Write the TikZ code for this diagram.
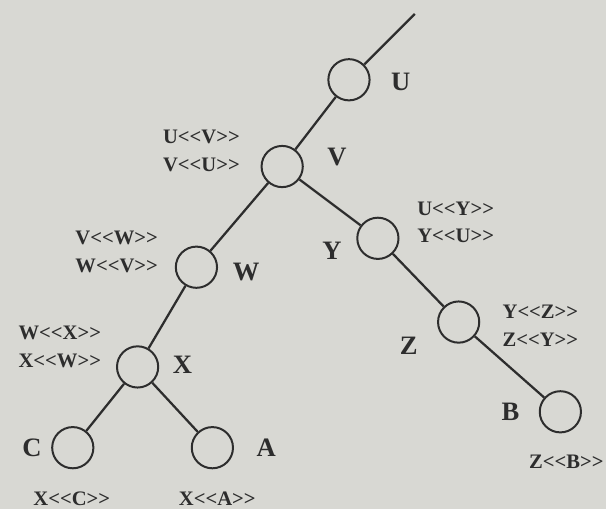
\documentclass[tikz,border=0pt]{standalone}
\usepackage{fontspec}
\setmainfont{Liberation Serif}
\definecolor{scanGray}{RGB}{216,216,211}
\definecolor{inkGray}{RGB}{45,45,45}
\newcommand{\opn}{<{}<}
\newcommand{\cls}{>{}>}

\begin{document}
\begin{tikzpicture}[
    x=0.75pt, y=-0.75pt,
    vertex/.style={circle, draw=inkGray, line width=1.5pt, minimum size=31pt, inner sep=0pt},
    letter/.style={font=\fontsize{20}{20}\selectfont\bfseries, text=inkGray},
    order/.style={font=\fontsize{15.5}{21}\selectfont\bfseries, text=inkGray, align=center},
    edge/.style={line width=1.7pt, inkGray}
]
\fill[scanGray] (0,0) rectangle (608,510);
% tree
\coordinate (top) at (416,14);
\node[vertex] (u) at (350,80) {};
\node[vertex] (v) at (283,167) {};
\node[vertex] (w) at (197,268) {};
\node[vertex] (x) at (138,368) {};
\node[vertex] (c) at (73,449) {};
\node[vertex] (a) at (213,449) {};
\node[vertex] (y) at (379,239) {};
\node[vertex] (z) at (460,323) {};
\node[vertex] (b) at (562,413) {};
\draw[edge] (top) -- (u);
\draw[edge] (u) -- (v);
\draw[edge] (v) -- (w);
\draw[edge] (w) -- (x);
\draw[edge] (x) -- (c);
\draw[edge] (x) -- (a);
\draw[edge] (v) -- (y);
\draw[edge] (y) -- (z);
\draw[edge] (z) -- (b);
% letters
\node[letter] (lu) at (402,82) {U};
\node[letter] (lv) at (338,157) {V};
\node[letter] (lw) at (247,273) {W};
\node[letter] (lx) at (183,366) {X};
\node[letter] (lc) at (32,449) {C};
\node[letter] (la) at (267,449) {A};
\node[letter] (ly) at (333,252) {Y};
\node[letter] (lz) at (410,347) {Z};
\node[letter] (lb) at (512,413) {B};
% orders
\node[order] (ouv) at (202,151) {U\opn V\cls\\V\opn U\cls};
\node[order] (ovw) at (117,253) {V\opn W\cls\\W\opn V\cls};
\node[order] (owx) at (60,348) {W\opn X\cls\\X\opn W\cls};
\node[order] (ouy) at (457,223) {U\opn Y\cls\\Y\opn U\cls};
\node[order] (oyz) at (542,327) {Y\opn Z\cls\\Z\opn Y\cls};
\node[order] (oxc) at (72,500) {X\opn C\cls};
\node[order] (oxa) at (218,500) {X\opn A\cls};
\node[order] (ozb) at (568,463) {Z\opn B\cls};
\end{tikzpicture}
\end{document}
